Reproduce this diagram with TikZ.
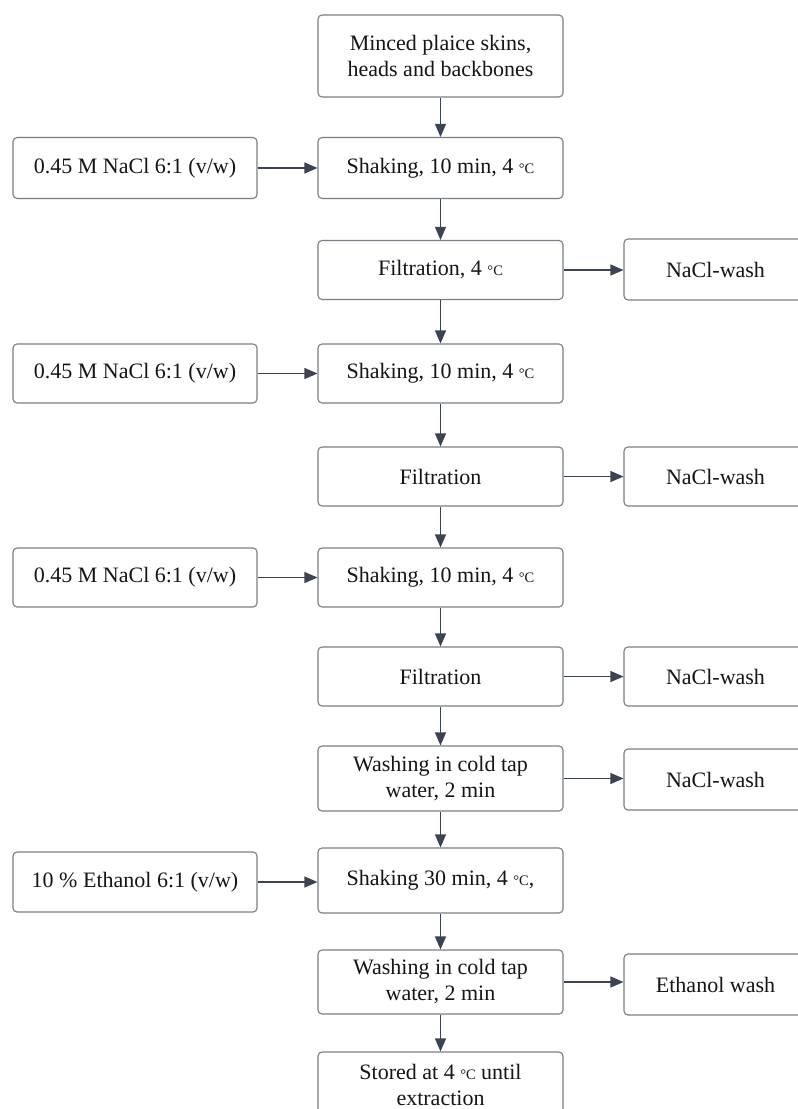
\documentclass[tikz,border=0pt]{standalone}
\usepackage{fontspec}
\setmainfont{Liberation Serif}
\usetikzlibrary{arrows.meta}
\definecolor{bordergray}{HTML}{7A7F87}
\definecolor{arrowcol}{HTML}{3D4451}
\definecolor{txtcol}{HTML}{151515}
\newcommand{\mydegc}{{\fontsize{14.5}{14.5}\selectfont °C}}
\tikzset{
  box/.style={draw=bordergray, line width=1.1pt, rounded corners=4pt, fill=white,
    minimum width=245pt, align=center, font=\fontsize{22}{26}\selectfont,
    text=txtcol, inner sep=0pt},
  sidebox/.style={box, minimum width=183pt},
  arr/.style={draw=arrowcol, line width=1.1pt, -{Triangle[length=13pt,width=11pt]}},
}
\begin{document}
\begin{tikzpicture}
\clip (0,0) rectangle (798pt,-1109pt);
\fill[white] (0,0) rectangle (798pt,-1109pt);
% centre column
\node[box, minimum height=82pt] (c1) at (440.5pt,-56pt) {Minced plaice skins,\\heads and backbones};
\node[box, minimum height=61pt] (c2) at (440.5pt,-168pt) {Shaking, 10 min, 4 \mydegc};
\node[box, minimum height=59pt] (c3) at (440.5pt,-270pt) {Filtration, 4 \mydegc};
\node[box, minimum height=59pt] (c4) at (440.5pt,-373.5pt) {Shaking, 10 min, 4 \mydegc};
\node[box, minimum height=59pt] (c5) at (440.5pt,-476.5pt) {Filtration};
\node[box, minimum height=59pt] (c6) at (440.5pt,-577.5pt) {Shaking, 10 min, 4 \mydegc};
\node[box, minimum height=59pt] (c7) at (440.5pt,-676.5pt) {Filtration};
\node[box, minimum height=65pt] (c8) at (440.5pt,-778.5pt) {Washing in cold tap\\water, 2 min};
\node[box, minimum height=65pt] (c9) at (440.5pt,-880.5pt) {Shaking 30 min, 4 \mydegc,};
\node[box, minimum height=64pt] (c10) at (440.5pt,-982pt) {Washing in cold tap\\water, 2 min};
\node[box, minimum height=65pt] (c11) at (440.5pt,-1084.5pt) {Stored at 4 \mydegc\ until\\extraction};
% left column
\node[box, minimum width=244pt, minimum height=61pt] (l1) at (135pt,-168pt) {0.45 M NaCl 6:1 (v/w)};
\node[box, minimum width=244pt, minimum height=59pt] (l2) at (135pt,-373.5pt) {0.45 M NaCl 6:1 (v/w)};
\node[box, minimum width=244pt, minimum height=59pt] (l3) at (135pt,-577.5pt) {0.45 M NaCl 6:1 (v/w)};
\node[box, minimum width=244pt, minimum height=60pt] (l4) at (135pt,-882pt) {10 \% Ethanol 6:1 (v/w)};
% right column
\node[sidebox, minimum height=61pt] (r1) at (715.5pt,-269.5pt) {NaCl-wash};
\node[sidebox, minimum height=59pt] (r2) at (715.5pt,-476.5pt) {NaCl-wash};
\node[sidebox, minimum height=59pt] (r3) at (715.5pt,-676.5pt) {NaCl-wash};
\node[sidebox, minimum height=61pt] (r4) at (715.5pt,-779.5pt) {NaCl-wash};
\node[sidebox, minimum height=61pt] (r5) at (715.5pt,-984.5pt) {Ethanol wash};
% vertical arrows
\foreach \a/\b in {c1/c2,c2/c3,c3/c4,c4/c5,c5/c6,c6/c7,c7/c8,c8/c9,c9/c10,c10/c11}
  \draw[arr] (\a.south) -- (\b.north);
% left arrows
\foreach \a/\b in {l1/c2,l2/c4,l3/c6,l4/c9}
  \draw[arr] (\a.east) -- (\a.east -| \b.west);
% right arrows
\foreach \a/\b in {c3/r1,c5/r2,c7/r3,c8/r4,c10/r5}
  \draw[arr] (\a.east) -- (\a.east -| \b.west);
\end{tikzpicture}
\end{document}
